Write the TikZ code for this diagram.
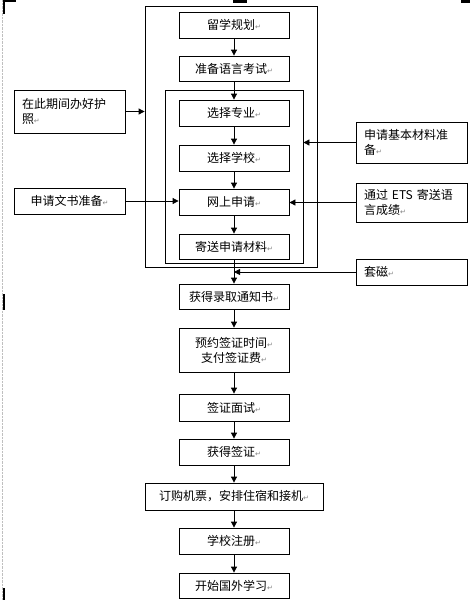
\documentclass[tikz,border=0pt]{standalone}
\usepackage{fontspec}
\setmainfont{Noto Sans CJK SC}
\newfontfamily\markfont{DejaVu Sans}
\usetikzlibrary{arrows.meta}
\newcommand{\crmark}{{\markfont\fontsize{7}{7}\selectfont\color{gray}↵}}
\tikzset{
  stepbox/.style={draw, line width=0.8pt, minimum width=110pt, minimum height=26pt, inner sep=2pt, align=center},
  sidebox/.style={draw, line width=0.8pt, text width=95pt, inner xsep=8pt, inner ysep=2pt, align=left},
  frame/.style={draw, line width=0.8pt, inner sep=0pt},
  flow/.style={-{Triangle[length=6pt,width=6pt]}, line width=0.8pt}
}
\begin{document}
\begin{tikzpicture}[x=1pt,y=-1pt,font=\fontsize{12}{15}\selectfont]
\useasboundingbox (0,0) rectangle (470,600);

% page marks
\draw[gray!50, densely dotted] (2,0) -- (2,600);
\fill (3,0) rectangle (16,2);
\fill (3,0) rectangle (5,14);
\fill (233,0) rectangle (247,3);
\fill (461,0) rectangle (470,3);
\fill (3,294) rectangle (5,310);
\fill (3,588) rectangle (5,600);

\node[frame, minimum width=172pt, minimum height=261pt] (outer) at (231,136.5) {};
\node[frame, minimum width=138pt, minimum height=173pt] (inner) at (234,176.5) {};

\node[stepbox] (plan) at (234,25) {留学规划\crmark};
\node[stepbox, minimum height=25pt] (lang) at (234,68.5) {准备语言考试\crmark};
\node[stepbox] (major) at (234,113) {选择专业\crmark};
\node[stepbox] (school) at (234,158) {选择学校\crmark};
\node[stepbox] (online) at (234,202) {网上申请\crmark};
\node[stepbox, minimum height=25pt] (mail) at (234,246.5) {寄送申请材料\crmark};
\node[stepbox, minimum height=25pt] (admit) at (234,296.5) {获得录取通知书\crmark};
\node[stepbox, minimum height=44pt] (appt) at (234,350) {预约签证时间\crmark\\支付签证费\crmark};
\node[stepbox, minimum height=27pt] (interview) at (234,407.5) {签证面试\crmark};
\node[stepbox] (visa) at (234,452) {获得签证\crmark};
\node[stepbox, minimum width=178pt, minimum height=27pt] (ticket) at (234,496.5) {订购机票，安排住宿和接机\crmark};
\node[stepbox] (register) at (234,541) {学校注册\crmark};
\node[stepbox, minimum height=25pt] (start) at (234,585.5) {开始国外学习\crmark};

\node[sidebox, minimum height=43pt] (passport) at (69.5,111.5) {在此期间办好护\\照\crmark};
\node[sidebox, minimum height=26pt, align=center] (essay) at (69.5,201) {申请文书准备\crmark};
\node[sidebox, minimum height=41pt] (material) at (411.5,142.5) {申请基本材料准\\备\crmark};
\node[sidebox, minimum height=39pt] (ets) at (411.5,202.5) {通过 ETS 寄送语\\言成绩\crmark};
\node[sidebox, minimum height=26pt] (contact) at (411.5,272) {套磁\crmark};

\draw[flow] (plan) -- (lang);
\draw[flow] (lang) -- (major);
\draw[flow] (major) -- (school);
\draw[flow] (school) -- (online);
\draw[flow] (online) -- (mail);
\draw[flow] (mail) -- (admit);
\draw[flow] (admit) -- (appt);
\draw[flow] (appt) -- (interview);
\draw[flow] (interview) -- (visa);
\draw[flow] (visa) -- (ticket);
\draw[flow] (ticket) -- (register);
\draw[flow] (register) -- (start);

\draw[flow] (passport) -- (passport -| outer.west);
\draw[flow] (material) -- (material -| inner.east);
\draw[flow] (essay) -- (essay -| online.west);
\draw[flow] (ets) -- (ets -| online.east);
\draw[flow] (contact) -- (contact -| mail.south);
\end{tikzpicture}
\end{document}
